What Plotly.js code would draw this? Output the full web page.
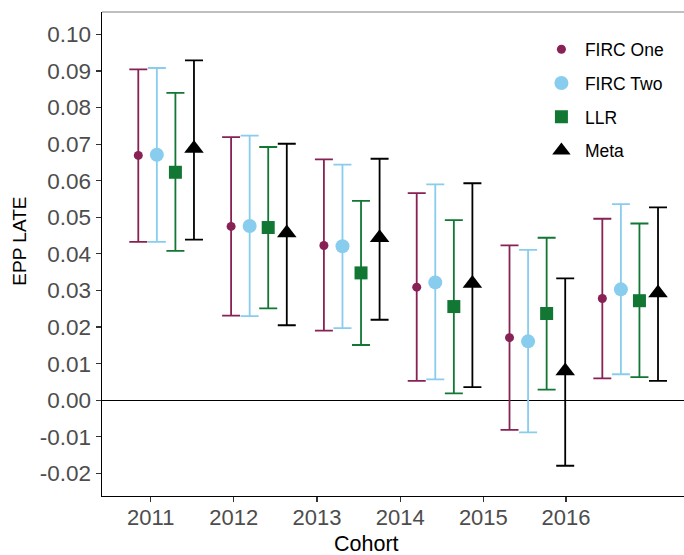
<!DOCTYPE html>
<html>
<head>
<meta charset="utf-8">
<script src="https://cdn.plot.ly/plotly-3.0.1.min.js"></script>
<style>
  html, body { margin: 0; padding: 0; background: #ffffff; }
  #chart { width: 684px; height: 555px; }
</style>
</head>
<body>
<div id="chart"></div>
<script>
// Cohorts and the tick labels drawn under them
const cohorts = ['2011', '2012', '2013', '2014', '2015', '2016'];
const cohortTickPos = [1.134, 2.028, 2.926, 3.823, 4.718, 5.609];

// Estimator names, dodge offsets, colours and marker styles
const methods = ['FIRC One', 'FIRC Two', 'LLR', 'Meta'];
const methodOffset = [0, 0.2, 0.4, 0.6];
const methodColor = ['#882255', '#88CCEE', '#117733', '#000000'];
const methodSymbol = ['circle', 'circle', 'square', 'triangle-up'];
const methodSize = [9, 14, 13, 17];

// Point estimates of the EPP LATE per cohort
const fircOneEst = [0.0669, 0.0475, 0.0423, 0.0309, 0.0171, 0.0278];
const fircTwoEst = [0.0671, 0.0476, 0.0421, 0.0322, 0.0161, 0.0303];
const llrEst     = [0.0623, 0.0472, 0.0348, 0.0256, 0.0237, 0.0272];
const metaEst    = [0.0688, 0.0457, 0.0444, 0.0319, 0.0080, 0.0293];

// Lower and upper confidence bounds
const fircOneLo = [0.0433, 0.0231, 0.0190, 0.0053, -0.0081, 0.0060];
const fircOneHi = [0.0904, 0.0719, 0.0658, 0.0566, 0.0423, 0.0496];
const fircTwoLo = [0.0433, 0.0230, 0.0197, 0.0057, -0.0088, 0.0071];
const fircTwoHi = [0.0908, 0.0723, 0.0644, 0.0590, 0.0411, 0.0536];
const llrLo     = [0.0408, 0.0251, 0.0151, 0.0019, 0.0029, 0.0063];
const llrHi     = [0.0840, 0.0692, 0.0545, 0.0492, 0.0444, 0.0483];
const metaLo    = [0.0439, 0.0205, 0.0220, 0.0036, -0.0179, 0.0053];
const metaHi    = [0.0929, 0.0701, 0.0660, 0.0593, 0.0333, 0.0527];

// Y-axis ticks
const yTickVals = [-0.02, -0.01, 0.00, 0.01, 0.02, 0.03, 0.04, 0.05, 0.06, 0.07, 0.08, 0.09, 0.10];
const yTickText = ['-0.02', '-0.01', '0.00', '0.01', '0.02', '0.03', '0.04', '0.05', '0.06', '0.07', '0.08', '0.09', '0.10'];

const estimates = [fircOneEst, fircTwoEst, llrEst, metaEst];
const lows = [fircOneLo, fircTwoLo, llrLo, metaLo];
const highs = [fircOneHi, fircTwoHi, llrHi, metaHi];

const FONT = 'Liberation Sans, Arial, sans-serif';

const traces = methods.map((name, m) => {
  const est = estimates[m];
  return {
    type: 'scatter',
    mode: 'markers',
    name: name,
    legendgroup: name,
    x: cohorts.map((c, i) => i + 1 + methodOffset[m]),
    y: est,
    marker: { color: methodColor[m], symbol: methodSymbol[m], size: methodSize[m], line: { width: 0 } },
    error_y: {
      type: 'data',
      symmetric: false,
      array: est.map((v, i) => highs[m][i] - v),
      arrayminus: est.map((v, i) => v - lows[m][i]),
      color: methodColor[m],
      thickness: 1.8,
      width: 9
    },
    hoverinfo: 'name+y'
  };
});

const layout = {
  width: 684,
  height: 555,
  margin: { l: 102, r: 0, t: 12, b: 59 },
  paper_bgcolor: '#ffffff',
  plot_bgcolor: '#ffffff',
  font: { family: FONT, color: '#000000' },
  showlegend: true,
  legend: {
    x: 0.749, xanchor: 'left',
    y: 0.96, yanchor: 'top',
    font: { family: FONT, size: 17.5, color: '#000000' },
    bgcolor: 'rgba(0,0,0,0)',
    traceorder: 'grouped',
    tracegroupgap: 8,
    itemwidth: 37,
    itemsizing: 'trace'
  },
  xaxis: {
    range: [0.609, 6.88],
    tickmode: 'array',
    tickvals: cohortTickPos,
    ticktext: cohorts,
    ticks: 'outside',
    ticklen: 5,
    tickwidth: 1.2,
    tickcolor: '#333333',
    ticklabelstandoff: -4,
    tickfont: { family: FONT, size: 22, color: '#4D4D4D' },
    showgrid: false,
    zeroline: false,
    showline: true,
    linecolor: '#000000',
    linewidth: 1.4
  },
  yaxis: {
    range: [-0.02617, 0.1061],
    tickmode: 'array',
    tickvals: yTickVals,
    ticktext: yTickText,
    ticks: 'outside',
    ticklen: 5,
    tickwidth: 1.2,
    tickcolor: '#333333',
    tickfont: { family: FONT, size: 22.5, color: '#4D4D4D' },
    showgrid: false,
    zeroline: true,
    zerolinecolor: '#000000',
    zerolinewidth: 1.4,
    showline: true,
    linecolor: '#000000',
    linewidth: 1.4
  },
  annotations: [
    // axis titles
    { text: 'Cohort', xref: 'paper', yref: 'paper', x: 0.455, y: -0.099,
      xanchor: 'center', yanchor: 'middle', showarrow: false,
      font: { family: FONT, size: 21.5, color: '#000000' } },
    { text: 'EPP LATE', xref: 'paper', yref: 'paper', x: -0.141, y: 0.5275,
      xanchor: 'center', yanchor: 'middle', textangle: -90, showarrow: false,
      font: { family: FONT, size: 19, color: '#000000' } }
  ],
  shapes: [
    // thin grey rule along the top of the panel
    { type: 'line', xref: 'paper', yref: 'paper', x0: 0, x1: 1, y0: 1, y1: 1,
      line: { color: '#7f7f7f', width: 1 } }
  ]
};

Plotly.newPlot('chart', traces, layout, { displayModeBar: false, staticPlot: true });
</script>
</body>
</html>
